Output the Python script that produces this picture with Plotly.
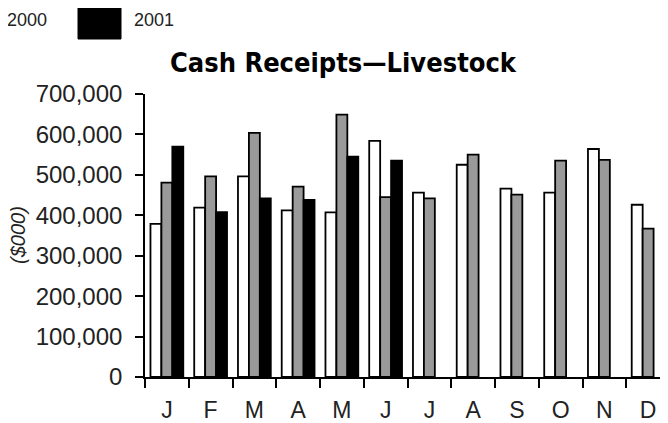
import plotly.graph_objects as go

months = ["J", "F", "M", "A", "M ", "J ", "J  ", "A ", "S", "O", "N", "D"]
month_labels = ["J", "F", "M", "A", "M", "J", "J", "A", "S", "O", "N", "D"]
series_names = ["1999", "2000", "2001"]
values_1999 = [379000, 419000, 496000, 412000, 407000, 584000, 456000, 525000, 466000, 456000, 564000, 426000]
values_2000 = [481000, 496000, 604000, 471000, 649000, 445000, 442000, 550000, 451000, 535000, 537000, 367000]
values_2001 = [570000, 408000, 442000, 438000, 545000, 535000, None, None, None, None, None, None]
colors = ["#ffffff", "#9a9a9a", "#000000"]
y_ticks = [0, 100000, 200000, 300000, 400000, 500000, 600000, 700000]
y_tick_text = ["0", "100,000", "200,000", "300,000", "400,000", "500,000", "600,000", "700,000"]

fig = go.Figure()
for name, vals, col in zip(series_names, [values_1999, values_2000, values_2001], colors):
    fig.add_trace(go.Bar(x=months, y=vals, name=name, marker=dict(color=col, line=dict(color="#000000", width=1.8))))

OFF = 8  # page body margin
# desired screen positions of the plot area
SL, SR, ST, SB = 145, 670, 94, 377
W, H = SR - OFF, 423
L, T = SL - OFF, ST - OFF
B = H - (SB - OFF)
R = 0
pw, ph = W - L - R, H - T - B

def px(x):
    return (x - SL) / pw

def py(y):
    return (SB - y) / ph

font = "Liberation Sans, Arial, sans-serif"
fig.update_layout(
    width=W, height=H,
    margin=dict(l=L, r=R, t=T, b=B),
    paper_bgcolor="white", plot_bgcolor="white",
    barmode="group", bargap=0.25, bargroupgap=0,
    showlegend=False,
    font=dict(family=font, color="#222222"),
    xaxis=dict(
        tickmode="array", tickvals=months, ticktext=month_labels,
        tickson="boundaries", ticks="outside", ticklen=9, tickwidth=1.6, tickcolor="#000",
        showline=True, linecolor="#000", linewidth=1.6, ticklabelstandoff=12,
        tickfont=dict(size=23, color="#222"), showgrid=False,
    ),
    yaxis=dict(
        range=[0, 700000], tickvals=y_ticks, ticktext=y_tick_text,
        ticks="outside", ticklen=8, tickwidth=1.6, tickcolor="#000", ticklabelstandoff=8,
        showline=True, linecolor="#000", linewidth=1.6,
        tickfont=dict(size=24, color="#222"), showgrid=False, zeroline=False,
    ),
)

fig.add_annotation(text="<b>Cash Receipts\u2014Livestock</b>", xref="paper", yref="paper",
                   x=px(343), y=py(62), xanchor="center", yanchor="middle", showarrow=False,
                   font=dict(family="Liberation Sans Narrow, DejaVu Sans Condensed, sans-serif", size=27, color="#000"))
fig.add_annotation(text="<i>($000)</i>", xref="paper", yref="paper", textangle=-90,
                   x=px(18), y=py(235), xanchor="center", yanchor="middle", showarrow=False,
                   font=dict(size=20, color="#222"))
fig.add_annotation(text="2000", xref="paper", yref="paper", x=px(49), y=py(20),
                   xanchor="right", yanchor="middle", showarrow=False, font=dict(size=18, color="#222"))
fig.add_annotation(text="2001", xref="paper", yref="paper", x=px(132), y=py(20),
                   xanchor="left", yanchor="middle", showarrow=False, font=dict(size=18, color="#222"))
fig.add_shape(type="rect", xref="paper", yref="paper", x0=px(78), x1=px(121), y0=py(39), y1=py(8),
              fillcolor="#000", line=dict(color="#000", width=1))

fig.write_html("out.html")
